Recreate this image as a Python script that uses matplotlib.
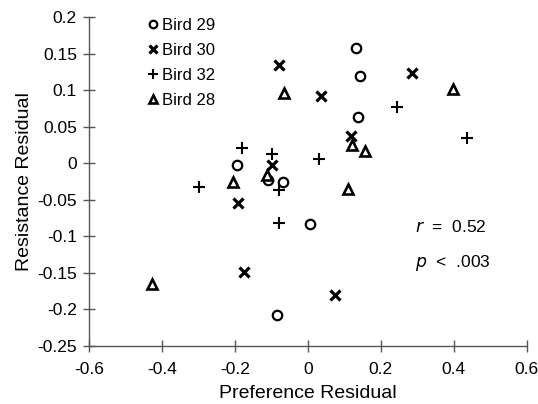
import matplotlib
matplotlib.use("Agg")
import matplotlib.pyplot as plt

plt.rcParams['font.family'] = ['Liberation Sans', 'DejaVu Sans']

bird29_x = [0.133, 0.143, 0.137, -0.195, -0.108, -0.067, 0.007, -0.085]
bird29_y = [0.158, 0.120, 0.064, -0.002, -0.023, -0.025, -0.083, -0.208]
bird30_x = [-0.078, 0.285, 0.036, 0.119, -0.097, -0.190, -0.175, 0.075]
bird30_y = [0.135, 0.124, 0.092, 0.037, -0.002, -0.055, -0.149, -0.180]
bird32_x = [0.245, 0.436, 0.031, -0.179, -0.099, -0.299, -0.080, -0.078]
bird32_y = [0.077, 0.035, 0.006, 0.021, 0.013, -0.033, -0.037, -0.082]
bird28_x = [0.397, -0.065, 0.120, 0.156, 0.110, -0.206, -0.111, -0.427]
bird28_y = [0.102, 0.096, 0.025, 0.017, -0.035, -0.026, -0.016, -0.166]

xticks = [-0.6, -0.4, -0.2, 0, 0.2, 0.4, 0.6]
xticklabels = ['-0.6', '-0.4', '-0.2', '0', '0.2', '0.4', '0.6']
yticks = [0.2, 0.15, 0.1, 0.05, 0, -0.05, -0.1, -0.15, -0.2, -0.25]
yticklabels = ['0.2', '0.15', '0.1', '0.05', '0', '-0.05', '-0.1', '-0.15', '-0.2', '-0.25']

fig = plt.figure(figsize=(5.38, 4.04), dpi=100)
ax = fig.add_axes([88.7/538, 1-345.7/404, (526.7-88.7)/538, (345.7-17.3)/404])

ax.plot(bird29_x, bird29_y, linestyle='none', marker='o', ms=6.8, mfc='white', mec='black', mew=1.6, label='Bird 29')
ax.plot(bird30_x, bird30_y, linestyle='none', marker='x', ms=7, mec='black', mew=2.3, label='Bird 30')
ax.plot(bird32_x, bird32_y, linestyle='none', marker='+', ms=8.5, mec='black', mew=1.5, label='Bird 32')
ax.plot(bird28_x, bird28_y, linestyle='none', marker='^', ms=6.8, mfc='white', mec='black', mew=1.9, label='Bird 28')

ax.set_xlim(-0.6, 0.6)
ax.set_ylim(-0.25, 0.2)
ax.set_xticks(xticks)
ax.set_xticklabels(xticklabels)
ax.set_yticks(yticks)
ax.set_yticklabels(yticklabels)
for s in ['top', 'right']:
    ax.spines[s].set_visible(False)
for s in ['left', 'bottom']:
    ax.spines[s].set_color('#555555')
    ax.spines[s].set_linewidth(1.0)
ax.tick_params(direction='inout', length=9, width=1.0, color='#555555', labelsize=12.5, pad=4)
ax.tick_params(axis='x', pad=7)

ax.set_xlabel('Preference Residual', fontsize=14, labelpad=6)
ax.set_ylabel('Resistance Residual', fontsize=14, labelpad=3)

leg = ax.legend(loc='upper left', bbox_to_anchor=(0.10, 1.045), frameon=False, fontsize=12,
                handlelength=0.6, handletextpad=0.3, labelspacing=0.6, markerscale=0.8)

ax.text(0.745, 0.361, r'$r$  =  0.52', transform=ax.transAxes, fontsize=12.5, ha='left', va='center')
ax.text(0.745, 0.252, r'$p$  <  .003', transform=ax.transAxes, fontsize=12.5, ha='left', va='center')

fig.savefig('out.png', dpi=100)
